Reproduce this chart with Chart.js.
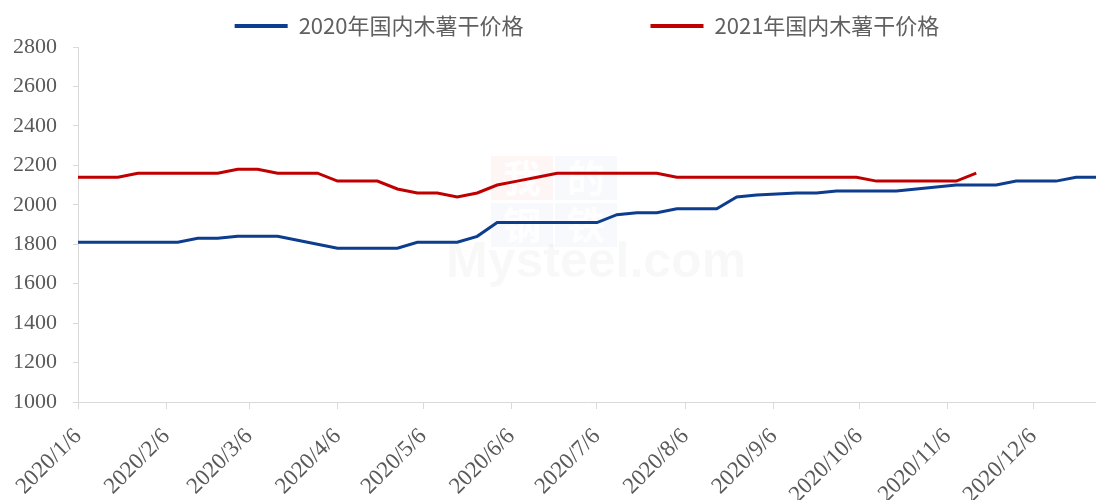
<!DOCTYPE html>
<html>
<head>
<meta charset="utf-8">
<script src="https://cdn.jsdelivr.net/npm/chart.js@4.4.1/dist/chart.umd.min.js"></script>
<style>
html,body{margin:0;padding:0;background:#fff;}
#wrap{position:relative;width:1096px;height:500px;}
</style>
</head>
<body>
<div id="wrap"><canvas id="c"></canvas></div>
<script>
// weekly observation dates (2020)
const weekDates = [
  '1/6','1/13','1/20','1/27','2/3','2/10','2/17','2/24','3/2','3/9','3/16','3/23','3/30',
  '4/6','4/13','4/20','4/27','5/4','5/11','5/18','5/25','6/1','6/8','6/15','6/22','6/29',
  '7/6','7/13','7/20','7/27','8/3','8/10','8/17','8/24','8/31','9/7','9/14','9/21','9/28',
  '10/5','10/12','10/19','10/26','11/2','11/9','11/16','11/23','11/30','12/7','12/14','12/21','12/28'
];
// 2020 domestic dried cassava price
const price2020 = [
  1810,1810,1810,1810,1810,1810,1830,1830,1840,1840,1840,1820,1800,
  1780,1780,1780,1780,1810,1810,1810,1840,1910,1910,1910,1910,1910,
  1910,1950,1960,1960,1980,1980,1980,2040,2050,2055,2060,2060,2070,
  2070,2070,2070,2080,2090,2100,2100,2100,2120,2120,2120,2140,2140
];
// 2021 domestic dried cassava price
const price2021 = [
  2140,2140,2140,2160,2160,2160,2160,2160,2180,2180,2160,2160,2160,
  2120,2120,2120,2080,2060,2060,2040,2060,2100,2120,2140,2160,2160,
  2160,2160,2160,2160,2140,2140,2140,2140,2140,2140,2140,2140,2140,
  2140,2120,2120,2120,2120,2120,2160
];
const seriesNames = ['2020年国内木薯干价格','2021年国内木薯干价格'];
const tickLabels = ['2020/1/6','2020/2/6','2020/3/6','2020/4/6','2020/5/6','2020/6/6',
  '2020/7/6','2020/8/6','2020/9/6','2020/10/6','2020/11/6','2020/12/6'];
const yTicks = [1000,1200,1400,1600,1800,2000,2200,2400,2600,2800];

const DAY = 86400000;
const base = Date.UTC(2020,0,6);
const dayOf = (m,d) => (Date.UTC(2020,m-1,d) - base) / DAY;
const weekDay = s => { const [m,d] = s.split('/').map(Number); return dayOf(m,d); };
const tickDay = s => { const [,m,d] = s.split('/').map(Number); return dayOf(m,d); };

const blue = '#0d3d8e';
const red = '#c00000';
const axisColor = '#d9d9d9';
const textColor = '#595959';

const watermark = {
  id: 'watermark',
  beforeDatasetsDraw(chart) {
    const c = chart.ctx;
    c.save();
    c.fillStyle = 'rgba(230,80,80,0.06)';
    c.fillRect(491,156,62,44);
    c.fillStyle = 'rgba(70,100,170,0.04)';
    c.fillRect(555,156,62,44);
    c.fillRect(491,203,62,44);
    c.fillRect(555,203,62,44);
    c.fillStyle = 'rgba(255,255,255,0.9)';
    c.font = 'bold 38px "Noto Sans CJK SC"';
    c.textAlign = 'center';
    c.textBaseline = 'middle';
    c.fillText('我',522,178);
    c.fillText('的',586,178);
    c.fillText('钢',522,225);
    c.fillText('铁',586,225);
    c.fillStyle = 'rgba(0,0,0,0.028)';
    c.font = 'bold 50px "Liberation Sans"';
    c.textAlign = 'left';
    c.textBaseline = 'alphabetic';
    c.fillText('Mysteel.com',446,277);
    c.restore();
  }
};

new Chart(document.getElementById('c'), {
  type: 'line',
  data: {
    datasets: [
      {
        label: seriesNames[0],
        data: price2020.map((v,i) => ({x: weekDay(weekDates[i]), y: v})),
        borderColor: blue, backgroundColor: blue,
        borderWidth: 3, pointRadius: 0, tension: 0, fill: false
      },
      {
        label: seriesNames[1],
        data: price2021.map((v,i) => ({x: weekDay(weekDates[i]), y: v})),
        borderColor: red, backgroundColor: red,
        borderWidth: 3, pointRadius: 0, tension: 0, fill: false
      }
    ]
  },
  options: {
    responsive: true,
    maintainAspectRatio: false,
    animation: false,
    layout: { padding: { top: -112, left: 0, right: 0, bottom: 0 } },
    plugins: {
      legend: {
        position: 'top',
        fullSize: false,
        labels: {
          color: '#606060',
          font: { family: '"Noto Sans CJK SC"', size: 22 },
          boxWidth: 53,
          boxHeight: 4,
          padding: 127,
          generateLabels(chart) {
            return Chart.defaults.plugins.legend.labels.generateLabels(chart)
              .map(l => Object.assign(l, { lineWidth: 0 }));
          }
        }
      },
      tooltip: { enabled: false }
    },
    scales: {
      x: {
        type: 'linear',
        min: weekDay(weekDates[0]),
        max: weekDay(weekDates[weekDates.length - 1]),
        afterBuildTicks: s => { s.ticks = tickLabels.map(t => ({ value: tickDay(t) })); },
        afterFit: s => { s.height = 98; },
        grid: { drawOnChartArea: false, drawTicks: true, tickLength: 7, color: axisColor },
        border: { color: axisColor, width: 1 },
        ticks: {
          autoSkip: false,
          minRotation: 45, maxRotation: 45,
          padding: 14,
          color: textColor,
          font: { family: '"Liberation Serif"', size: 23 },
          callback: (v, i) => tickLabels[i]
        }
      },
      y: {
        min: yTicks[0],
        max: yTicks[yTicks.length - 1],
        afterBuildTicks: s => { s.ticks = yTicks.map(v => ({ value: v })); },
        afterFit: s => { s.width = 78; },
        grid: { drawOnChartArea: false, drawTicks: true, tickLength: 5, color: axisColor },
        border: { color: axisColor, width: 1 },
        ticks: {
          padding: 16,
          color: textColor,
          font: { family: '"Liberation Serif"', size: 22 },
          callback: v => String(v)
        }
      }
    }
  },
  plugins: [watermark]
});
</script>
</body>
</html>
